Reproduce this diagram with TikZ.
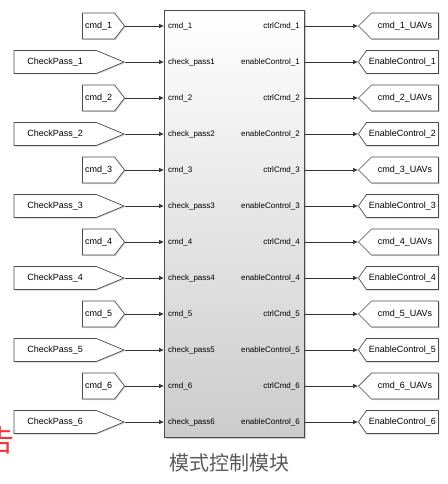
\documentclass[tikz,border=0pt]{standalone}
\usepackage{fontspec}
\setmainfont{Liberation Sans}
\newfontfamily\cjk{Noto Sans CJK SC}
\usepackage{tikz}
\usetikzlibrary{shapes.symbols,arrows.meta,shadows}

\begin{document}
\begin{tikzpicture}[x=1pt,y=-1pt,
  tag/.style={signal,draw=black!70,fill=white,line width=0.7pt,inner sep=0pt,
    font=\fontsize{9}{10}\selectfont,
    drop shadow={shadow xshift=1pt,shadow yshift=-1pt,opacity=0.35}},
  cmdtag/.style={tag,signal to=east,minimum width=42,minimum height=26,signal pointer angle=105},
  chktag/.style={tag,signal to=east,minimum width=110,minimum height=23,signal pointer angle=45},
  uavtag/.style={tag,signal to=west,minimum width=80,minimum height=26,signal pointer angle=90},
  entag/.style={tag,signal to=west,minimum width=80,minimum height=23,signal pointer angle=110},
  port/.style={inner ysep=0pt,inner xsep=4pt,font=\fontsize{8}{9}\selectfont},
  sig/.style={draw=black!80,line width=0.6pt,-{Latex[length=5pt,width=4.5pt]}}]
  \useasboundingbox (0,0) rectangle (447,484);

  % block
  \node[draw=black!70,line width=0.8pt,top color=white,bottom color=black!20,
    minimum width=140,minimum height=427,inner sep=0pt,
    drop shadow={shadow xshift=1.5pt,shadow yshift=-1.5pt,opacity=0.4}] (blk) at (234,223.5) {};
  \node[font=\cjk\fontsize{20}{22}\selectfont,text=black!65] (title) at (229,463) {模式控制模块};

  % input tags
  \node[cmdtag,anchor=east] (inCmd1) at (125,26) {cmd\_1};
  \node[chktag,anchor=east] (inChk1) at (125,62) {CheckPass\_1};
  \node[cmdtag,anchor=east] (inCmd2) at (125,98) {cmd\_2};
  \node[chktag,anchor=east] (inChk2) at (125,134) {CheckPass\_2};
  \node[cmdtag,anchor=east] (inCmd3) at (125,170) {cmd\_3};
  \node[chktag,anchor=east] (inChk3) at (125,206) {CheckPass\_3};
  \node[cmdtag,anchor=east] (inCmd4) at (125,242) {cmd\_4};
  \node[chktag,anchor=east] (inChk4) at (125,278) {CheckPass\_4};
  \node[cmdtag,anchor=east] (inCmd5) at (125,314) {cmd\_5};
  \node[chktag,anchor=east] (inChk5) at (125,350) {CheckPass\_5};
  \node[cmdtag,anchor=east] (inCmd6) at (125,386) {cmd\_6};
  \node[chktag,anchor=east] (inChk6) at (125,422) {CheckPass\_6};

  % input ports
  \node[port,anchor=west] (pCmd1) at (164,26) {cmd\_1};
  \node[port,anchor=west] (pChk1) at (164,62) {check\_pass1};
  \node[port,anchor=west] (pCmd2) at (164,98) {cmd\_2};
  \node[port,anchor=west] (pChk2) at (164,134) {check\_pass2};
  \node[port,anchor=west] (pCmd3) at (164,170) {cmd\_3};
  \node[port,anchor=west] (pChk3) at (164,206) {check\_pass3};
  \node[port,anchor=west] (pCmd4) at (164,242) {cmd\_4};
  \node[port,anchor=west] (pChk4) at (164,278) {check\_pass4};
  \node[port,anchor=west] (pCmd5) at (164,314) {cmd\_5};
  \node[port,anchor=west] (pChk5) at (164,350) {check\_pass5};
  \node[port,anchor=west] (pCmd6) at (164,386) {cmd\_6};
  \node[port,anchor=west] (pChk6) at (164,422) {check\_pass6};

  % output ports
  \node[port,anchor=east] (qCmd1) at (304,26) {ctrlCmd\_1};
  \node[port,anchor=east] (qEn1) at (304,62) {enableControl\_1};
  \node[port,anchor=east] (qCmd2) at (304,98) {ctrlCmd\_2};
  \node[port,anchor=east] (qEn2) at (304,134) {enableControl\_2};
  \node[port,anchor=east] (qCmd3) at (304,170) {ctrlCmd\_3};
  \node[port,anchor=east] (qEn3) at (304,206) {enableControl\_3};
  \node[port,anchor=east] (qCmd4) at (304,242) {ctrlCmd\_4};
  \node[port,anchor=east] (qEn4) at (304,278) {enableControl\_4};
  \node[port,anchor=east] (qCmd5) at (304,314) {ctrlCmd\_5};
  \node[port,anchor=east] (qEn5) at (304,350) {enableControl\_5};
  \node[port,anchor=east] (qCmd6) at (304,386) {ctrlCmd\_6};
  \node[port,anchor=east] (qEn6) at (304,422) {enableControl\_6};

  % output tags
  \node[uavtag,anchor=west] (outCmd1) at (358,26) {cmd\_1\_UAVs};
  \node[entag,anchor=west] (outEn1) at (358,62) {EnableControl\_1};
  \node[uavtag,anchor=west] (outCmd2) at (358,98) {cmd\_2\_UAVs};
  \node[entag,anchor=west] (outEn2) at (358,134) {EnableControl\_2};
  \node[uavtag,anchor=west] (outCmd3) at (358,170) {cmd\_3\_UAVs};
  \node[entag,anchor=west] (outEn3) at (358,206) {EnableControl\_3};
  \node[uavtag,anchor=west] (outCmd4) at (358,242) {cmd\_4\_UAVs};
  \node[entag,anchor=west] (outEn4) at (358,278) {EnableControl\_4};
  \node[uavtag,anchor=west] (outCmd5) at (358,314) {cmd\_5\_UAVs};
  \node[entag,anchor=west] (outEn5) at (358,350) {EnableControl\_5};
  \node[uavtag,anchor=west] (outCmd6) at (358,386) {cmd\_6\_UAVs};
  \node[entag,anchor=west] (outEn6) at (358,422) {EnableControl\_6};

  % signals in
  \draw[sig] (inCmd1.east) -- (pCmd1.west);
  \draw[sig] (inChk1.east) -- (pChk1.west);
  \draw[sig] (inCmd2.east) -- (pCmd2.west);
  \draw[sig] (inChk2.east) -- (pChk2.west);
  \draw[sig] (inCmd3.east) -- (pCmd3.west);
  \draw[sig] (inChk3.east) -- (pChk3.west);
  \draw[sig] (inCmd4.east) -- (pCmd4.west);
  \draw[sig] (inChk4.east) -- (pChk4.west);
  \draw[sig] (inCmd5.east) -- (pCmd5.west);
  \draw[sig] (inChk5.east) -- (pChk5.west);
  \draw[sig] (inCmd6.east) -- (pCmd6.west);
  \draw[sig] (inChk6.east) -- (pChk6.west);

  % signals out
  \draw[sig] (qCmd1.east) -- (outCmd1.west);
  \draw[sig] (qEn1.east) -- (outEn1.west);
  \draw[sig] (qCmd2.east) -- (outCmd2.west);
  \draw[sig] (qEn2.east) -- (outEn2.west);
  \draw[sig] (qCmd3.east) -- (outCmd3.west);
  \draw[sig] (qEn3.east) -- (outEn3.west);
  \draw[sig] (qCmd4.east) -- (outCmd4.west);
  \draw[sig] (qEn4.east) -- (outEn4.west);
  \draw[sig] (qCmd5.east) -- (outCmd5.west);
  \draw[sig] (qEn5.east) -- (outEn5.west);
  \draw[sig] (qCmd6.east) -- (outCmd6.west);
  \draw[sig] (qEn6.east) -- (outEn6.west);

  % cut-off character at the left edge
  \begin{scope}
    \clip (0,400) rectangle (30,484);
    \node[font=\cjk\fontsize{30}{32}\selectfont,text=red!80] (cutchar) at (-1,440) {告};
  \end{scope}
\end{tikzpicture}
\end{document}
